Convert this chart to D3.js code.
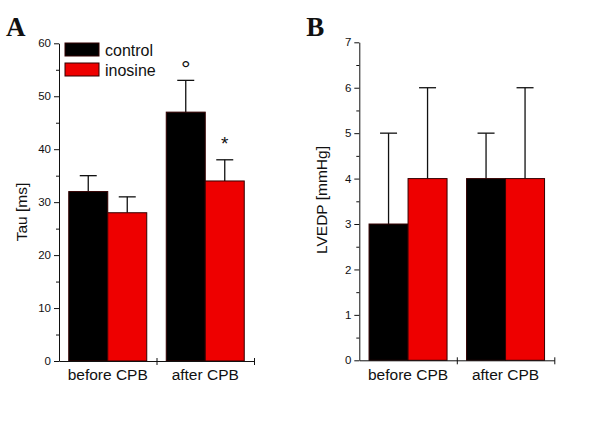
<!DOCTYPE html>
<html lang="en">
<head>
  <meta charset="utf-8">
  <title>Tau and LVEDP before / after CPB</title>
  <script src="https://d3js.org/d3.v7.min.js"></script>
  <style>
    body { margin: 0; background: #fff; }
    svg text { font-family: Arial, 'Liberation Sans', sans-serif; fill: #111; }
    .domain, .tick line { stroke: #111; }
  </style>
</head>
<body>
<div id="chart"></div>
<script>
  // data
  var groups = ["before CPB", "after CPB"];
  var series = ["control", "inosine"];
  var colors = ["#000000", "#ee0000"];

  var tauMean = [[32, 28], [47, 34]];   // [group][series]
  var tauErr  = [[3, 3], [6, 4]];
  var tauMarks = [["", ""], ["°", "*"]];

  var lvedpMean = [[3, 4], [4, 4]];
  var lvedpErr  = [[2, 2], [1, 2]];

  var width = 600, height = 425;

  var svg = d3.select("#chart").append("svg")
      .attr("width", width)
      .attr("height", height);

  function panel(opt) {
    var g = svg.append("g").attr("transform", "translate(" + opt.dx + ",0)");

    var x0 = 59, x1 = 254, yTop = opt.yTop, yBot = opt.yBot;

    var x = d3.scaleBand().domain(groups).range([x0, x1])
        .paddingInner(0.2).paddingOuter(0.1);
    var xs = d3.scaleBand().domain(series).range([0, x.bandwidth()]);
    var y = d3.scaleLinear().domain([0, opt.max]).range([yBot, yTop]);

    // panel letter
    g.append("text")
        .attr("x", 6).attr("y", 36)
        .style("font-family", "'Liberation Serif', 'Times New Roman', serif")
        .style("font-weight", "bold")
        .style("font-size", "27px")
        .text(opt.letter);

    // bars
    var rows = [];
    groups.forEach(function(grp, i) {
      series.forEach(function(s, j) {
        rows.push({grp: grp, s: s, j: j, v: opt.mean[i][j], e: opt.err[i][j],
                   mark: opt.marks ? opt.marks[i][j] : ""});
      });
    });

    // error bars (drawn first, bar covers lower part)
    g.selectAll(".err").data(rows).enter().append("g")
        .each(function(d) {
          var cx = x(d.grp) + xs(d.s) + xs.bandwidth() / 2;
          var el = d3.select(this);
          el.append("line")
              .attr("x1", cx).attr("x2", cx)
              .attr("y1", y(d.v)).attr("y2", y(d.v + d.e))
              .attr("stroke", "#111").attr("stroke-width", 1.3);
          el.append("line")
              .attr("x1", cx - 8.5).attr("x2", cx + 8.5)
              .attr("y1", y(d.v + d.e)).attr("y2", y(d.v + d.e))
              .attr("stroke", "#111").attr("stroke-width", 1.3);
        });

    g.selectAll(".bar").data(rows).enter().append("rect")
        .attr("x", d => x(d.grp) + xs(d.s))
        .attr("y", d => y(d.v))
        .attr("width", xs.bandwidth())
        .attr("height", d => y(0) - y(d.v))
        .attr("fill", d => colors[d.j])
        .attr("stroke", "#300")
        .attr("stroke-width", 1);

    // significance marks
    g.selectAll(".mark").data(rows.filter(d => d.mark)).enter().append("text")
        .attr("x", d => x(d.grp) + xs(d.s) + xs.bandwidth() / 2)
        .attr("y", d => y(d.v + d.e) - (d.mark == "*" ? 10 : 3))
        .attr("text-anchor", "middle")
        .style("font-size", d => d.mark == "*" ? "19px" : "24px")
        .text(d => d.mark);

    // y axis with minor ticks
    var yAxis = g.append("g").attr("transform", "translate(" + x0 + ",0)")
        .call(d3.axisLeft(y).tickValues(d3.range(0, opt.max + 0.001, opt.step))
              .tickFormat(d3.format("d"))
              .tickSize(5).tickPadding(3).tickSizeOuter(0));
    yAxis.selectAll("text").style("font-size", "11.5px");
    g.append("g").attr("transform", "translate(" + x0 + ",0)")
        .call(d3.axisLeft(y).tickValues(d3.range(opt.step / 2, opt.max, opt.step))
              .tickSize(3).tickFormat("").tickSizeOuter(0))
        .select(".domain").remove();

    // x axis: ticks at group boundaries
    var xb = d3.scaleLinear().domain([0, groups.length]).range([x0, x1]);
    var xAxis = g.append("g").attr("transform", "translate(0," + yBot + ")")
        .call(d3.axisBottom(xb).tickValues([1, 2]).tickSize(4).tickFormat("").tickSizeOuter(0));
    xAxis.selectAll(".tick line").attr("y1", -3);

    g.selectAll(".cat").data(groups).enter().append("text")
        .attr("x", d => x(d) + x.bandwidth() / 2)
        .attr("y", 380)
        .attr("text-anchor", "middle")
        .style("font-size", "15.5px")
        .text(d => d);

    // y label
    g.append("text")
        .attr("transform", "translate(" + 27 + "," + opt.labelY + ") rotate(-90)")
        .attr("text-anchor", "middle")
        .style("font-size", "15.5px")
        .text(opt.label);

    if (opt.legend) {
      series.forEach(function(s, j) {
        g.append("rect")
            .attr("x", 65).attr("y", 43 + j * 20)
            .attr("width", 34).attr("height", 13)
            .attr("fill", colors[j]).attr("stroke", "#300");
        g.append("text")
            .attr("x", 105).attr("y", 55.5 + j * 20)
            .style("font-size", "16px")
            .text(s);
      });
    }
  }

  panel({dx: 0, letter: "A", max: 60, step: 10, yTop: 43.3, yBot: 361,
         mean: tauMean, err: tauErr, marks: tauMarks,
         label: "Tau [ms]", labelY: 212, legend: true});

  panel({dx: 300.3, letter: "B", max: 7, step: 1, yTop: 42.3, yBot: 360.3,
         mean: lvedpMean, err: lvedpErr,
         label: "LVEDP [mmHg]", labelY: 200, legend: false});
</script>
</body>
</html>
